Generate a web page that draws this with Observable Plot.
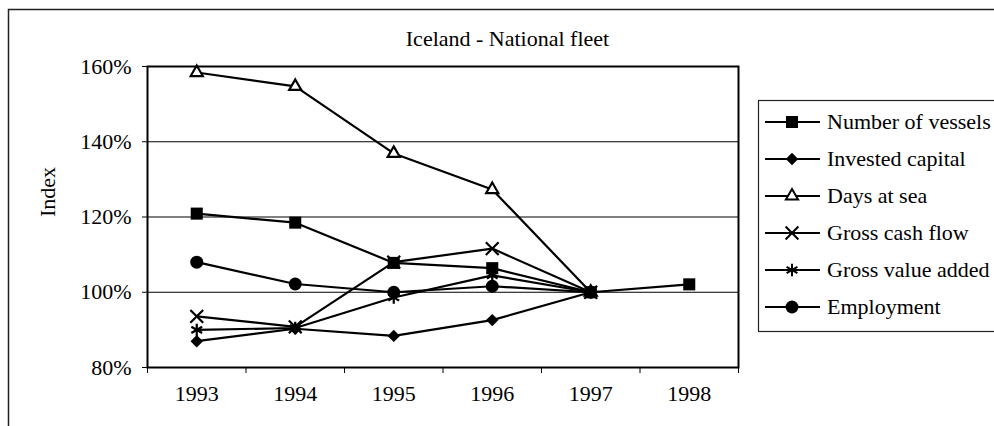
<!DOCTYPE html>
<html>
<head>
<meta charset="utf-8">
<script src="https://cdn.jsdelivr.net/npm/d3@7"></script>
<script src="https://cdn.jsdelivr.net/npm/@observablehq/plot@0.6"></script>
<style>
  html, body { margin: 0; padding: 0; background: white; }
  svg { display: block; }
</style>
</head>
<body>
<div id="chart"></div>
<script>
const title = "Iceland - National fleet";
const yLabel = "Index";
const years = [1993, 1994, 1995, 1996, 1997, 1998];
const seriesNames = ["Number of vessels", "Invested capital", "Days at sea", "Gross cash flow", "Gross value added", "Employment"];
const vessels    = [120.9, 118.5, 107.8, 106.4, 100.0, 102.1];
const invested   = [87.0, 90.3, 88.4, 92.6, 100.0];
const daysAtSea  = [158.4, 154.7, 136.9, 127.3, 100.0];
const cashFlow   = [93.6, 90.8, 108.0, 111.6, 100.0];
const valueAdded = [90.0, 90.5, 98.6, 104.5, 100.0];
const employment = [108.0, 102.2, 100.0, 101.6, 100.0];
const yTicks = [80, 100, 120, 140, 160];
const gridValues = [100, 120, 140];
const xBoundaries = [1992.5, 1993.5, 1994.5, 1995.5, 1996.5, 1997.5, 1998.5];

const seriesValues = [vessels, invested, daysAtSea, cashFlow, valueAdded, employment];
const symbolNames = ["square", "diamond2", "triangle2", "times", "asterisk", "circle"];
const symbolFill = [true, true, false, false, false, true];
const symbolR = [6.8, 5.6, 5.8, 5.9, 5.9, 6.5];

const table = [];
seriesNames.forEach((name, i) => {
  seriesValues[i].forEach((v, j) => table.push({series: name, year: years[j], value: v}));
});

const dotMarks = seriesNames.map((name, i) => {
  const data = table.filter(d => d.series === name);
  return symbolFill[i]
    ? Plot.dot(data, {x: "year", y: "value", symbol: "series", r: symbolR[i], fill: "black", stroke: "none"})
    : Plot.dot(data, {x: "year", y: "value", symbol: "series", r: symbolR[i], fill: "white", stroke: "black", strokeWidth: 2.2});
});
const orderedDots = [dotMarks[5], dotMarks[4], dotMarks[3], dotMarks[1], dotMarks[2], dotMarks[0]];

const font = "'Liberation Serif', 'Times New Roman', serif";
const fs = 22;

const svg = Plot.plot({
  width: 994,
  height: 426,
  marginLeft: 147,
  marginRight: 256,
  marginTop: 66,
  marginBottom: 59,
  style: {fontFamily: font, fontSize: fs + "px", background: "white", color: "black", overflow: "visible"},
  x: {type: "linear", domain: [1992.5, 1998.5]},
  y: {domain: [80, 160]},
  symbol: {domain: seriesNames, range: symbolNames},
  marks: [
    Plot.ruleY(gridValues, {stroke: "black", strokeWidth: 1}),
    Plot.axisY(yTicks, {tickFormat: d => d + "%", tickSize: 5, tickPadding: 11, label: null, strokeWidth: 1}),
    Plot.axisX(xBoundaries, {tickFormat: () => "", tickSize: 6, label: null, strokeWidth: 1}),
    Plot.axisX(years, {tickFormat: d => String(d), tickSize: 0, tickPadding: 18, label: null}),
    Plot.frame({stroke: "black", strokeWidth: 2}),
    Plot.line(table, {x: "year", y: "value", z: "series", stroke: "black", strokeWidth: 2.2}),
    ...orderedDots,
    Plot.text([title], {text: d => d, frameAnchor: "top-left", dx: 360, dy: -36, textAnchor: "middle", fontSize: fs}),
    Plot.text([yLabel], {text: d => d, frameAnchor: "left", dx: -100, rotate: -90, fontSize: fs})
  ]
});

document.getElementById("chart").appendChild(svg);

const s = d3.select(svg);
s.insert("rect", ":first-child")
  .attr("x", 8.5).attr("y", 9.5).attr("width", 1100).attr("height", 600)
  .attr("fill", "none").attr("stroke", "#222").attr("stroke-width", 1.5);

// legend
const legendX = 758, legendTop = 100, legendBottom = 331, rowStart = 122, rowStep = 37;
const lg = s.append("g");
lg.append("rect")
  .attr("x", legendX + 0.5).attr("y", legendTop + 0.5)
  .attr("width", 400).attr("height", legendBottom - legendTop)
  .attr("fill", "white").attr("stroke", "#222").attr("stroke-width", 1.2);
const d3Symbols = {square: d3.symbolSquare, diamond2: d3.symbolDiamond2, triangle2: d3.symbolTriangle2, times: d3.symbolTimes, asterisk: d3.symbolAsterisk, circle: d3.symbolCircle};
seriesNames.forEach((name, i) => {
  const cy = rowStart + rowStep * i;
  lg.append("line").attr("x1", 765).attr("x2", 820).attr("y1", cy).attr("y2", cy)
    .attr("stroke", "black").attr("stroke-width", 1.8);
  const path = d3.symbol(d3Symbols[symbolNames[i]], Math.PI * symbolR[i] * symbolR[i])();
  const p = lg.append("path").attr("d", path).attr("transform", `translate(792,${cy})`);
  if (symbolFill[i]) p.attr("fill", "black");
  else p.attr("fill", "white").attr("stroke", "black").attr("stroke-width", 2);
  lg.append("text").attr("x", 827).attr("y", cy).attr("dy", "0.32em")
    .attr("text-anchor", "start")
    .attr("font-family", font).attr("font-size", fs).attr("fill", "black").text(name);
});
</script>
</body>
</html>
